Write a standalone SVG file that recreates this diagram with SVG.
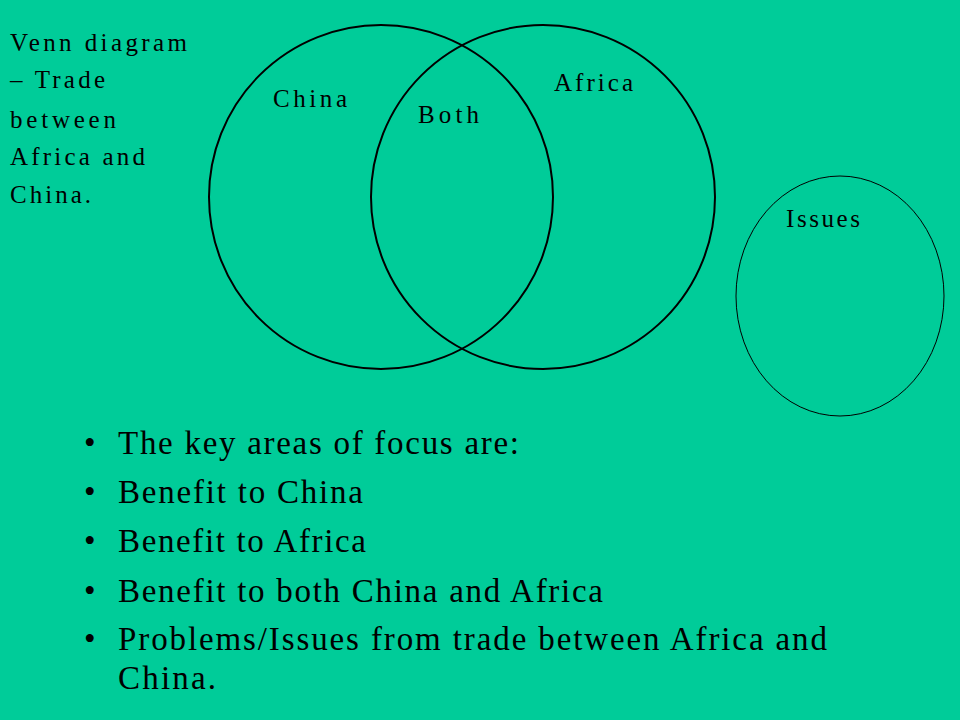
<svg xmlns="http://www.w3.org/2000/svg" width="960" height="720" viewBox="0 0 960 720">
<style>
.t{font-family:"Liberation Serif",serif;fill:#000}
.s{font-size:25px}
.b{font-size:33px}
.c{fill:none;stroke:#000}
</style>
<rect width="960" height="720" fill="#00CC99"/>
<g id="title"><text class="t s" x="10" y="51" textLength="177">Venn diagram</text><text class="t s" x="10" y="88" textLength="95">– Trade</text><text class="t s" x="10" y="128" textLength="106">between</text><text class="t s" x="10" y="165" textLength="135">Africa and</text><text class="t s" x="10" y="203" textLength="81">China.</text></g>
<g id="china"><circle class="c" cx="381" cy="197" r="172" stroke-width="2"/><text class="t s" x="273" y="107" textLength="74">China</text></g>
<g id="africa"><circle class="c" cx="543" cy="197" r="172" stroke-width="2"/><text class="t s" x="554" y="91" textLength="79">Africa</text></g>
<g id="both"><text class="t s" x="418" y="123" textLength="61">Both</text></g>
<g id="issues"><ellipse class="c" cx="840" cy="296" rx="104" ry="120"/><text class="t s" x="786" y="227" textLength="74">Issues</text></g>
<g id="connectors"></g>
<g id="bullets">
<text class="t b" x="84" y="454">•</text><text class="t b" x="118" y="454" textLength="401">The key areas of focus are:</text>
<text class="t b" x="84" y="503">•</text><text class="t b" x="118" y="503" textLength="245">Benefit to China</text>
<text class="t b" x="84" y="552">•</text><text class="t b" x="118" y="552" textLength="248">Benefit to Africa</text>
<text class="t b" x="84" y="602">•</text><text class="t b" x="118" y="602" textLength="485">Benefit to both China and Africa</text>
<text class="t b" x="84" y="650">•</text><text class="t b" x="118" y="650" textLength="709">Problems/Issues from trade between Africa and</text>
<text class="t b" x="118" y="689" textLength="98">China.</text>
</g>
</svg>
